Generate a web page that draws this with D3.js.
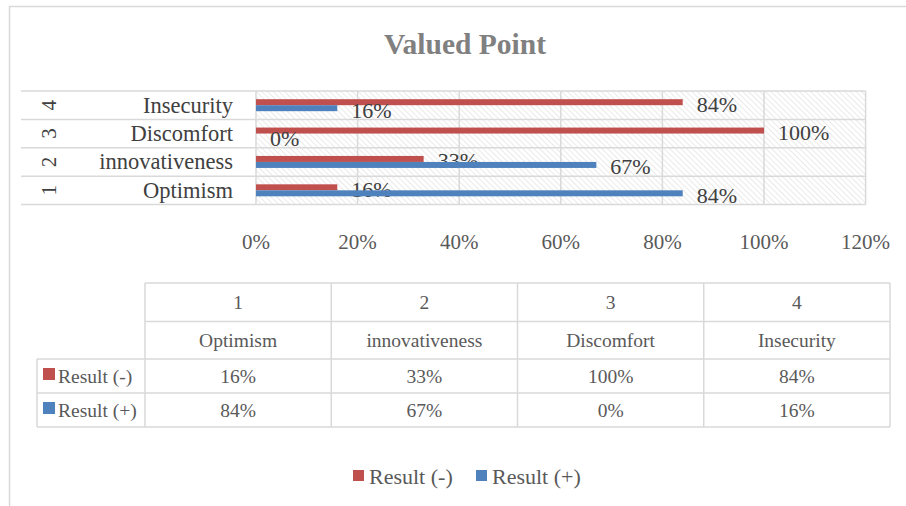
<!DOCTYPE html>
<html>
<head>
<meta charset="utf-8">
<title>Valued Point</title>
<script src="https://d3js.org/d3.v7.min.js"></script>
<style>
    body { margin: 0; background: #fff; }
    svg { display: block; font-family: "Liberation Serif", "Times New Roman", serif; }
    .grid { stroke: #d9d9d9; stroke-width: 1.5; fill: none; }
</style>
</head>
<body>
<svg width="906" height="506"></svg>
<script>
    // data
    const nums = ["1", "2", "3", "4"];
    const categories = ["Optimism", "innovativeness", "Discomfort", "Insecurity"];
    const seriesNames = ["Result (-)", "Result (+)"];
    const resultNeg = [0.16, 0.33, 1.00, 0.84];
    const resultPos = [0.84, 0.67, 0.00, 0.16];
    const xTicks = [0, 0.2, 0.4, 0.6, 0.8, 1.0, 1.2];
    const colors = ["#c0504d", "#4f81bd"];

    const svg = d3.select("svg");
    const fmt = d3.format(".0%");

    // outer frame
    svg.append("path").attr("class", "grid")
        .attr("d", "M9.5,506 L9.5,6.5 L906,6.5");

    // title
    svg.append("text")
        .attr("x", 465).attr("y", 54)
        .attr("text-anchor", "middle")
        .attr("font-size", 29.5).attr("font-weight", "bold")
        .attr("fill", "#808080")
        .text("Valued Point");

    // hatch pattern
    const defs = svg.append("defs");
    const pat = defs.append("pattern")
        .attr("id", "hatch").attr("patternUnits", "userSpaceOnUse")
        .attr("width", 4).attr("height", 4)
        .attr("patternTransform", "rotate(-45)");
    pat.append("rect").attr("width", 4).attr("height", 4).attr("fill", "#fff");
    pat.append("line").attr("x1", 0).attr("y1", 0).attr("x2", 0).attr("y2", 4)
        .attr("stroke", "#e4e4e4").attr("stroke-width", 1.5);

    // scales
    const x = d3.scaleLinear().domain([0, 1.2]).range([256, 865.6]);
    const rows = d3.range(categories.length);
    const y = d3.scaleBand().domain(rows.slice().reverse()).range([91, 204.5]);
    const inner = d3.scaleBand().domain([0, 1]).range([y.bandwidth() / 2 - 6, y.bandwidth() / 2 + 6]);

    // plot background
    svg.append("rect")
        .attr("x", x(0)).attr("y", y.range()[0])
        .attr("width", x(1.2) - x(0)).attr("height", y.range()[1] - y.range()[0])
        .attr("fill", "url(#hatch)");

    // vertical gridlines
    svg.append("g").selectAll("line").data(xTicks).join("line")
        .attr("class", "grid")
        .attr("x1", d => x(d)).attr("x2", d => x(d))
        .attr("y1", y.range()[0]).attr("y2", y.range()[1]);

    // horizontal row lines (extend through category axis)
    const rowEdges = rows.map(i => y(i)).concat([y.range()[1]]);
    svg.append("g").selectAll("line").data(rowEdges).join("line")
        .attr("class", "grid")
        .attr("x1", 21).attr("x2", x(1.2))
        .attr("y1", d => d).attr("y2", d => d);

    // category axis: numbers (rotated) and names
    svg.append("g").selectAll("text").data(rows).join("text")
        .attr("transform", i => `translate(56,${y(i) + y.bandwidth() / 2}) rotate(-90)`)
        .attr("text-anchor", "middle")
        .attr("font-size", 21).attr("fill", "#404040")
        .text(i => nums[i]);
    svg.append("g").selectAll("text").data(rows).join("text")
        .attr("x", 233).attr("y", i => y(i) + y.bandwidth() / 2 + 7.5)
        .attr("text-anchor", "end")
        .attr("font-size", 22.5).attr("fill", "#404040")
        .text(i => categories[i]);

    // bars + labels
    const seriesVals = [resultNeg, resultPos];
    seriesVals.forEach((vals, s) => {
        svg.append("g").selectAll("rect").data(rows).join("rect")
            .attr("x", x(0))
            .attr("y", i => y(i) + inner(s))
            .attr("width", i => x(vals[i]) - x(0))
            .attr("height", inner.bandwidth())
            .attr("fill", colors[s]);
        svg.append("g").selectAll("text").data(rows).join("text")
            .attr("x", i => x(vals[i]) + 14)
            .attr("y", i => y(i) + inner(s) + inner.bandwidth() / 2 + 9.5)
            .attr("font-size", 22).attr("fill", "#404040")
            .text(i => fmt(vals[i]));
    });

    // x axis tick labels
    svg.append("g").selectAll("text").data(xTicks).join("text")
        .attr("x", d => x(d)).attr("y", 249)
        .attr("text-anchor", "middle")
        .attr("font-size", 21).attr("fill", "#595959")
        .text(d => fmt(d));

    // data table
    const colX = d3.scaleBand().domain(rows).range([145, 890]);
    const tRows = [283, 321.5, 359, 393, 427];
    const tg = svg.append("g");
    // horizontal lines
    tg.append("line").attr("class", "grid").attr("x1", 145).attr("x2", 890).attr("y1", tRows[0]).attr("y2", tRows[0]);
    tg.append("line").attr("class", "grid").attr("x1", 145).attr("x2", 890).attr("y1", tRows[1]).attr("y2", tRows[1]);
    tRows.slice(2).forEach(ty => {
        tg.append("line").attr("class", "grid").attr("x1", 37).attr("x2", 890).attr("y1", ty).attr("y2", ty);
    });
    // vertical lines
    tg.append("line").attr("class", "grid").attr("x1", 37).attr("x2", 37).attr("y1", tRows[2]).attr("y2", tRows[4]);
    rows.concat([rows.length]).forEach(i => {
        const cx = i < rows.length ? colX(i) : colX.range()[1];
        tg.append("line").attr("class", "grid").attr("x1", cx).attr("x2", cx).attr("y1", tRows[0]).attr("y2", tRows[4]);
    });
    const cellText = (i, r, t) => tg.append("text")
        .attr("x", colX(i) + colX.bandwidth() / 2)
        .attr("y", (tRows[r] + tRows[r + 1]) / 2 + 6.5)
        .attr("text-anchor", "middle")
        .attr("font-size", 19.5).attr("fill", "#595959")
        .text(t);
    rows.forEach(i => {
        cellText(i, 0, nums[i]);
        cellText(i, 1, categories[i]);
        cellText(i, 2, fmt(resultNeg[i]));
        cellText(i, 3, fmt(resultPos[i]));
    });
    seriesNames.forEach((name, s) => {
        const cy = (tRows[s + 2] + tRows[s + 3]) / 2;
        tg.append("rect").attr("x", 43).attr("y", cy - 8).attr("width", 12).attr("height", 12).attr("fill", colors[s]);
        tg.append("text").attr("x", 58).attr("y", cy + 6.5)
            .attr("font-size", 19.5).attr("fill", "#595959").text(name);
    });

    // legend
    const legend = svg.append("g");
    const legX = [353, 476];
    seriesNames.forEach((name, s) => {
        legend.append("rect").attr("x", legX[s]).attr("y", 470).attr("width", 11).attr("height", 11).attr("fill", colors[s]);
        legend.append("text").attr("x", legX[s] + 16).attr("y", 484)
            .attr("font-size", 22).attr("fill", "#595959").text(name);
    });
</script>
</body>
</html>
